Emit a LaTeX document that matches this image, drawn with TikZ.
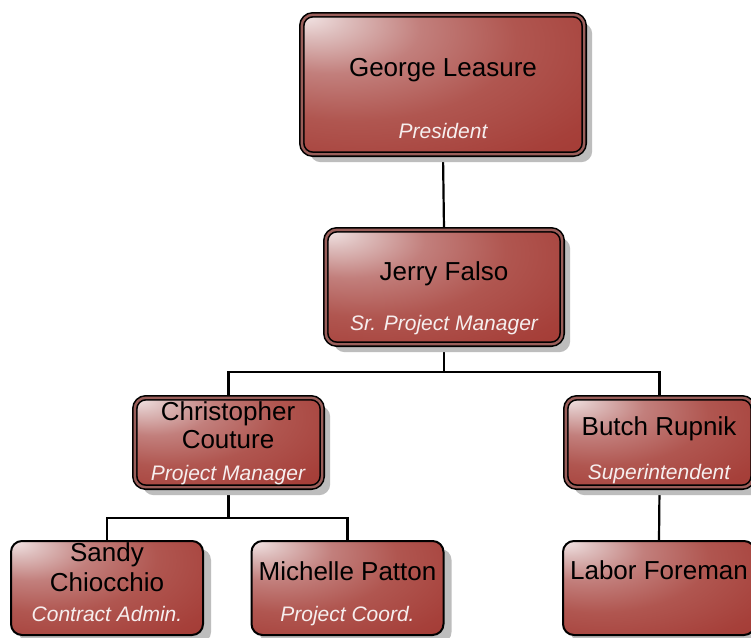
\documentclass[tikz,border=0pt]{standalone}
\usepackage{fontspec}
\setmainfont{Liberation Sans}
\usetikzlibrary{shadows,backgrounds}
\definecolor{ca}{HTML}{F3E6E6}
\definecolor{cb}{HTML}{DDBDBC}
\definecolor{cc}{HTML}{C27F7C}
\definecolor{cd}{HTML}{B05650}
\definecolor{ce}{HTML}{A6403A}
\definecolor{cf}{HTML}{A0332C}
\definecolor{gapcol}{HTML}{9A5E5A}
\definecolor{shadowgray}{HTML}{BDBDBD}
\definecolor{titlecol}{HTML}{F6EEEE}
\pgfdeclareradialshading{orgshade}{\pgfpoint{-25bp}{25bp}}{color(0bp)=(ca); color(6bp)=(cb); color(16bp)=(cc); color(29bp)=(cd); color(44bp)=(ce); color(60bp)=(cf); color(80bp)=(cf)}
\begin{document}
\begin{tikzpicture}[x=1pt,y=-1pt,
  box/.style={rectangle, rounded corners=11pt, shading=orgshade, draw=black, inner sep=0pt,
    drop shadow={shadow xshift=8pt, shadow yshift=-8pt, fill=shadowgray, opacity=1}},
  dbox/.style={box, line width=1.6pt, double=gapcol, double distance=2.4pt},
  sbox/.style={box, line width=2pt},
  nm/.style={font=\fontsize{26}{28}\selectfont, text=black, inner sep=0pt, anchor=base},
  tt/.style={font=\fontsize{21}{24}\selectfont\itshape, text=titlecol, inner sep=0pt, anchor=base},
  link/.style={draw=black, line width=2.2pt}]
\useasboundingbox (0,0) rectangle (751,637);
% boxes
\node[dbox, minimum width=282.4pt, minimum height=139.4pt] (george) at (443,84.5) {};
\node[dbox, minimum width=236.4pt, minimum height=114.4pt] (jerry) at (444,287) {};
\node[dbox, minimum width=187.4pt, minimum height=89.4pt] (chris) at (228.5,442.5) {};
\node[dbox, minimum width=187.4pt, minimum height=89.4pt] (butch) at (659.5,442.5) {};
\node[sbox, minimum width=192pt, minimum height=94pt] (sandy) at (107,588) {};
\node[sbox, minimum width=192pt, minimum height=94pt] (michelle) at (347.5,588) {};
\node[sbox, minimum width=192pt, minimum height=94pt] (labor) at (659,588) {};
% connectors
\begin{scope}[on background layer]
\fill[white] (0,0) rectangle (751,637);
\draw[link] (george.south) -- (jerry.north);
\draw[link] (jerry.south) -- ++(0,27) -| (chris.north);
\draw[link] (jerry.south) ++(0,27) -| (butch.north);
\draw[link] (chris.south) -- ++(0,30) -| (sandy.north);
\draw[link] (chris.south) ++(0,30) -| (michelle.north);
\draw[link] (butch.south) -- (labor.north);
\end{scope}
% texts
\node[nm] (george-n) at (443,76) {George Leasure};
\node[tt] (george-t) at (443,138) {President};
\node[nm] (jerry-n) at (444,280) {Jerry Falso};
\node[tt] (jerry-t) at (444,330) {Sr. Project Manager};
\node[nm, align=center, font=\fontsize{26}{27.6}\selectfont] (chris-n) at (228,448.3) {Christopher\\Couture};
\node[tt] (chris-t) at (228,480) {Project Manager};
\node[nm] (butch-n) at (659,435) {Butch Rupnik};
\node[tt] (butch-t) at (659,479) {Superintendent};
\node[nm, align=center, font=\fontsize{26}{30}\selectfont] (sandy-n) at (107,591.7) {Sandy\\Chiocchio};
\node[tt] (sandy-t) at (107,621.7) {Contract Admin.};
\node[nm] (michelle-n) at (347.5,580) {Michelle Patton};
\node[tt] (michelle-t) at (347.5,621.7) {Project Coord.};
\node[nm] (labor-n) at (659,579.3) {Labor Foreman};
\end{tikzpicture}
\end{document}
